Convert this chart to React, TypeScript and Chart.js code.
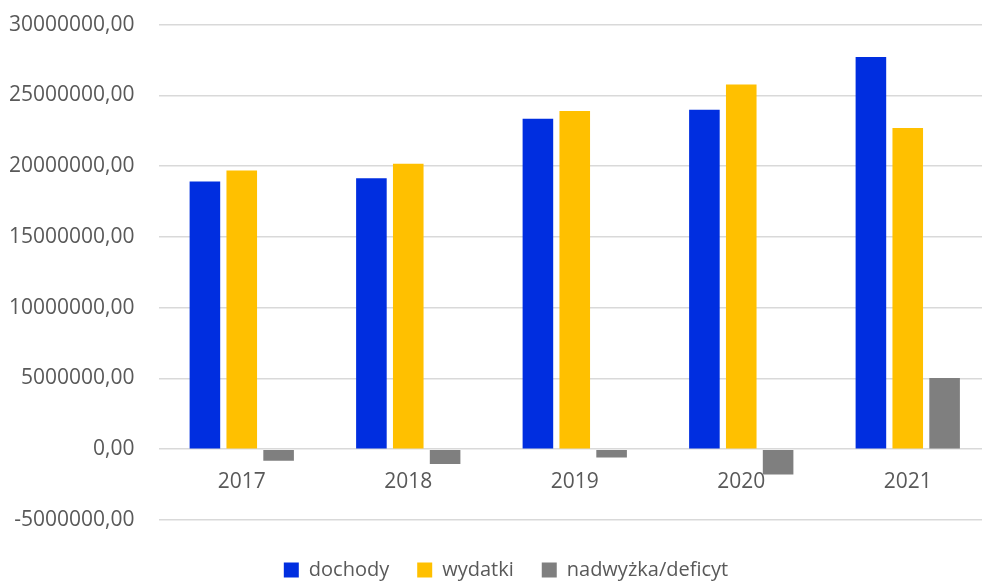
import React, { useEffect, useRef } from "react";
import { Chart, registerables } from "chart.js";

Chart.register(...registerables);

const categories = ["2017", "2018", "2019", "2020", "2021"];
const dochody = [18920000, 19150000, 23350000, 23990000, 27710000];
const wydatki = [19700000, 20170000, 23890000, 25770000, 22690000];
const nadwyzka = [-810000, -1050000, -580000, -1780000, 5040000];
const seriesNames = ["dochody", "wydatki", "nadwyżka/deficyt"];
const seriesColors = ["#002EE0", "#FFC000", "#7F7F7F"];
const yMin = -5000000;
const yMax = 30000000;
const yStep = 5000000;

const legendShift = {
  id: "legendShift",
  afterLayout(chart: any) {
    const lg = chart.legend;
    if (lg) {
      lg.left += 12;
      lg.right += 12;
    }
  },
};

export default function App() {
  const ref = useRef<HTMLCanvasElement>(null);
  useEffect(() => {
    document.body.style.margin = "0";
    document.body.style.overflow = "hidden";
    const ctx = ref.current!;
    const family = "'Open Sans', 'Noto Sans', sans-serif";
    const font = { family, size: 21 };
    const chart = new Chart(ctx, {
      type: "bar",
      data: {
        labels: categories,
        datasets: [dochody, wydatki, nadwyzka].map((d, i) => ({
          label: seriesNames[i],
          data: d,
          backgroundColor: seriesColors[i],
          borderWidth: 0,
          categoryPercentage: 0.664,
          barPercentage: 0.83,
        })),
      },
      plugins: [legendShift],
      options: {
        animation: false,
        responsive: false,
        maintainAspectRatio: false,
        layout: { padding: { top: 0, right: 0, left: -3, bottom: -9 } },
        plugins: {
          legend: {
            position: "bottom",
            title: { display: true, text: "", font: { size: 10 }, padding: 0 },
            labels: {
              boxWidth: 15,
              boxHeight: 15,
              color: "#595959",
              font: { family, size: 20 },
              padding: 28,
            },
          },
          tooltip: { enabled: false },
        },
        scales: {
          x: {
            position: { y: 0 } as any,
            grid: { display: false, drawTicks: false },
            border: { display: false },
            ticks: { color: "#595959", font, padding: 20 },
          },
          y: {
            min: yMin,
            max: yMax,
            ticks: {
              stepSize: yStep,
              color: "#595959",
              font,
              padding: 12,
              callback: (v: any) => Number(v).toFixed(2).replace(".", ","),
            },
            grid: {
              color: "#D9D9D9",
              lineWidth: 1.5,
              drawTicks: true,
              tickLength: 12,
              tickColor: "rgba(0,0,0,0)",
            },
            border: { display: false },
          },
        },
      },
    });
    return () => chart.destroy();
  }, []);
  return (
    <div style={{ width: 982, height: 581, overflow: "hidden" }}>
      <canvas ref={ref} width={991} height={581} style={{ width: 991, height: 581, display: "block" }} />
    </div>
  );
}
